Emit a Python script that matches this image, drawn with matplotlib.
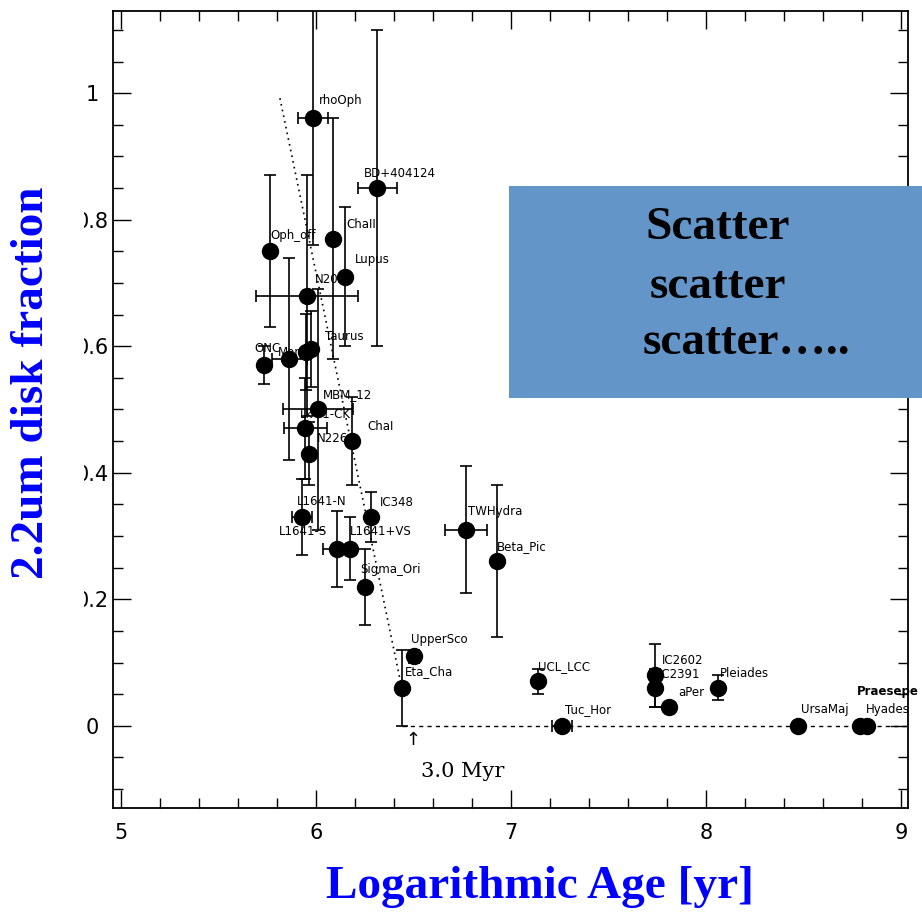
import numpy as np
import matplotlib
matplotlib.use("Agg")
import matplotlib.pyplot as plt
from matplotlib.patches import Rectangle
from matplotlib.ticker import MultipleLocator

# cluster name, log age, 2.2um disk fraction, errors
names = ['rhoOph', 'BD+404124', 'ChaII', 'Oph_off', 'Lupus', 'N2024', 'Taurus',
         'MonR2', 'ONC', '', 'MBM_12', 'Lk+1-CK', 'ChaI', 'N2264', 'L1641-N',
         'IC348', 'L1641-S', 'L1641+VS', 'Sigma_Ori', 'TWHydra', 'Beta_Pic',
         'UpperSco', 'Eta_Cha', 'UCL_LCC', 'Tuc_Hor', 'IC2602', 'IC2391', 'aPer',
         'Pleiades', 'UrsaMaj', 'Hyades', 'Praesepe']
log_age = [5.985, 6.313, 6.087, 5.764, 6.149, 5.954, 5.974,
           5.949, 5.862, 5.733, 6.010, 5.944, 6.185, 5.964, 5.928,
           6.282, 6.108, 6.174, 6.251, 6.769, 6.928,
           6.503, 6.441, 7.138, 7.262, 7.738, 7.738, 7.810,
           8.062, 8.472, 8.790, 8.826]
disk_frac = [0.96, 0.85, 0.77, 0.75, 0.71, 0.68, 0.596,
             0.591, 0.58, 0.57, 0.50, 0.47, 0.45, 0.43, 0.33,
             0.33, 0.28, 0.28, 0.22, 0.31, 0.26,
             0.11, 0.06, 0.07, 0.0, 0.08, 0.06, 0.03,
             0.06, 0.0, 0.0, 0.0]
age_err = [0.075, 0.10, 0, 0, 0, 0.26, 0,
           0, 0.09, 0, 0.18, 0.11, 0, 0, 0.05,
           0, 0.07, 0, 0, 0.11, 0,
           0, 0, 0, 0.05, 0, 0, 0,
           0, 0, 0, 0]
frac_err = [0.20, 0.25, 0.19, 0.12, 0.11, 0.19, 0.06,
            0.06, 0.16, 0.03, 0.19, 0.08, 0.07, 0.05, 0.06,
            0.04, 0.06, 0.05, 0.06, 0.10, 0.12,
            0.01, 0.06, 0.02, 0, 0.05, 0.03, 0,
            0.02, 0, 0, 0]

# dotted fit and the zero line
fit_age = [5.815, 6.441]
fit_frac = [0.992, 0.058]
zero_age = [6.441, 9.04]
zero_frac = [0.0, 0.0]

# label offsets in pixels and alignment (layout only)
lab_off = {'rhoOph': (6, 18), 'BD+404124': (-13, 15), 'ChaII': (13, 14), 'Oph_off': (0, 16),
           'Lupus': (10, 17), 'N2024': (8, 16), 'Taurus': (14, 12), 'MonR2': (12, -1, 'right'),
           'ONC': (-8, 10, 'right'), 'MBM_12': (5, 15), 'Lk+1-CK': (-5, 14), 'ChaI': (15, 15),
           'N2264': (8, 15), 'L1641-N': (-5, 16), 'IC348': (9, 15), 'L1641-S': (-10, 17, 'right'),
           'L1641+VS': (0, 17), 'Sigma_Ori': (-5, 17), 'TWHydra': (2, 18), 'Beta_Pic': (0, 15),
           'UpperSco': (-3, 17), 'Eta_Cha': (3, 16), 'UCL_LCC': (0, 15), 'Tuc_Hor': (3, 16),
           'IC2602': (7, 15), 'IC2391': (4, 13), 'aPer': (9, 14), 'Pleiades': (2, 14),
           'UrsaMaj': (3, 16), 'Hyades': (6, 16), 'Praesepe': (52, 34, 'right')}

fig = plt.figure(figsize=(9.22, 9.13), dpi=100)
ax = fig.add_axes([0.1226, 0.115, 0.8622, 0.873])

ax.plot(fit_age, fit_frac, ls=(0, (1, 2.5)), color='black', lw=1.2)
ax.plot(zero_age, zero_frac, ls=(0, (3, 3)), color='black', lw=1.0)

ax.errorbar(log_age, disk_frac, xerr=age_err, yerr=frac_err, fmt='o', color='black',
            ms=11.5, elinewidth=1.2, capsize=4, capthick=1.2)

for n, xa, yf in zip(names, log_age, disk_frac):
    if not n:
        continue
    off = lab_off.get(n, (5, 15))
    ha = off[2] if len(off) > 2 else 'left'
    ax.annotate(n, (xa, yf), xytext=off[:2], textcoords='offset pixels',
                ha=ha, va='center', fontsize=8.5,
                fontweight='bold' if n == 'Praesepe' else 'normal')

ax.annotate('\u2191', (6.497, -0.022), ha='center', va='center', fontsize=13)
ax.text(6.754, -0.073, '3.0 Myr', ha='center', va='center', fontsize=15,
        family='DejaVu Serif')

ax.set_xlim(4.959, 9.036)
ax.set_ylim(-0.13, 1.13)
ax.xaxis.set_major_locator(MultipleLocator(1))
ax.xaxis.set_minor_locator(MultipleLocator(0.2))
ax.yaxis.set_minor_locator(MultipleLocator(0.05))
ax.set_yticks([0, 0.2, 0.4, 0.6, 0.8, 1.0])
ax.set_yticklabels(['0', '0.2', '0.4', '0.6', '0.8', '1'])
ax.tick_params(which='both', direction='in', top=True, right=True, labelsize=15)
ax.tick_params(which='major', length=13, width=1.0)
ax.tick_params(which='minor', length=7, width=1.0)
ax.tick_params(axis='y', pad=15)
ax.tick_params(axis='x', pad=11)
for lab in ax.get_yticklabels():
    lab.set_ha('center')
for s in ax.spines.values():
    s.set_linewidth(1.3)

serif = ['Liberation Serif', 'DejaVu Serif']
fig.text(32 / 922, 1 - 383 / 913, '2.2um disk fraction', rotation=90, ha='center',
         va='center', fontsize=34, fontweight='bold', color='blue', family=serif,
         bbox=dict(facecolor='white', edgecolor='none', pad=22))
fig.text(540 / 922, 1 - 887 / 913, 'Logarithmic Age [yr]', ha='center', va='center',
         fontsize=34, fontweight='bold', color='blue', family=serif)

fig.patches.append(Rectangle((509 / 922, 1 - 398 / 913), 0.45, 212 / 913,
                             transform=fig.transFigure, facecolor='#6395c9',
                             edgecolor='none', zorder=5))
for txt, px, py in [('Scatter', 645, 228), ('scatter', 650, 287), ('scatter\u2026..', 643, 343)]:
    fig.text(px / 922, 1 - py / 913, txt, ha='left', va='center', fontsize=34,
             fontweight='bold', color='black', family=serif, zorder=6)

fig.savefig('out.png', dpi=100)
